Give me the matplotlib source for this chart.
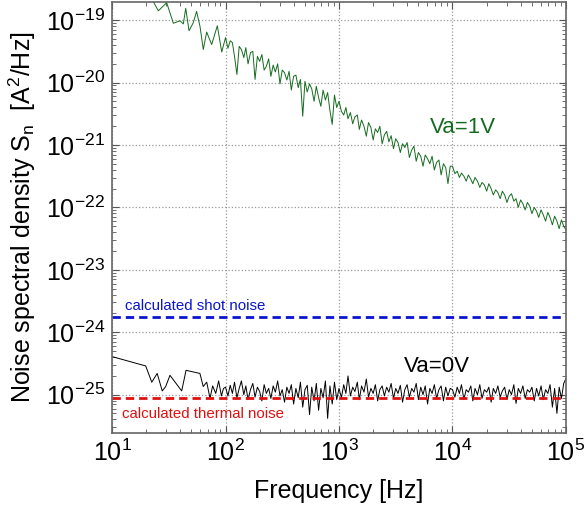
import numpy as np
import matplotlib.pyplot as plt
from matplotlib.ticker import LogLocator, NullFormatter, LogFormatterSciNotation

plt.rcParams['font.family'] = ['Liberation Sans', 'DejaVu Sans']
plt.rcParams['mathtext.fontset'] = 'custom'
plt.rcParams['mathtext.rm'] = 'Liberation Sans'
plt.rcParams['mathtext.it'] = 'Liberation Sans:italic'

# frequencies shared by both spectra above 100 Hz
freq_hi = [100, 105, 110, 115, 120, 126, 132, 138, 145, 151, 158, 166, 174, 182, 191,
           200, 209, 219, 229, 240, 251, 263, 275, 288, 302, 316, 331, 347, 363, 380,
           398, 417, 437, 457, 479, 501, 525, 550, 575, 603, 631, 661, 692, 724, 759,
           794, 832, 871, 912, 955,
           1000, 1050, 1100, 1150, 1200, 1260, 1320, 1380, 1450, 1510, 1580, 1660, 1740,
           1820, 1910, 2000, 2090, 2190, 2290, 2400, 2510, 2630, 2750, 2880, 3020, 3160,
           3310, 3470, 3630, 3800, 3980, 4170, 4370, 4570, 4790, 5010, 5250, 5500, 5750,
           6030, 6310, 6610, 6920, 7240, 7590, 7940, 8320, 8710, 9120, 9550,
           10000, 10500, 11000, 11500, 12000, 12600, 13200, 13800, 14500, 15100, 15800,
           16600, 17400, 18200, 19100, 20000, 20900, 21900, 22900, 24000, 25100, 26300,
           27500, 28800, 30200, 31600, 33100, 34700, 36300, 38000, 39800, 41700, 43700,
           45700, 47900, 50100, 52500, 55000, 57500, 60300, 63100, 66100, 69200, 72400,
           75900, 79400, 83200, 87100, 91200, 95500, 100000]

# Va = 1V, low-frequency part, log10 of S_n
freq_1v_lo = [20, 22.4, 25.6, 30.3, 34.7, 39.7, 42.5, 44.6, 47.7, 52.0, 55.6, 59.6,
              63.7, 68.2, 75.5, 84.7, 92.6]
log_1v_lo = [-18.55, -18.66, -18.85, -18.72, -19.05, -19.01, -19.06, -18.81, -19.17,
             -19.04, -18.86, -19.10, -19.47, -19.19, -19.39, -19.09, -19.51]

log_1v_hi = [-19.28, -19.45, -19.33, -19.36, -19.58, -19.87, -19.42, -19.47, -19.60, -19.44,
             -19.70, -19.52, -19.50, -19.95, -19.58, -19.66, -19.55, -19.80, -19.74, -19.62,
             -19.90, -19.72, -19.83, -19.70, -20.02, -19.80, -19.84, -19.96, -19.82, -20.12,
             -19.90, -19.88, -20.08, -19.95, -20.54, -19.98, -20.15, -20.02, -20.10, -20.30,
             -20.06, -20.24, -20.38, -20.12, -20.28, -20.16, -20.45, -20.67, -20.20, -20.40,
             -20.30, -20.46, -20.52, -20.40, -20.58, -20.48, -20.66, -20.55, -20.52, -20.75,
             -20.60, -20.70, -20.86, -20.64, -20.72, -20.92, -20.74, -20.80, -20.70, -20.98,
             -20.84, -20.78, -20.95, -20.85, -21.06, -20.90, -20.96, -21.12, -20.98, -21.04,
             -20.96, -21.20, -21.08, -21.02, -21.26, -21.12, -21.18, -21.34, -21.16, -21.22,
             -21.30, -21.18, -21.40, -21.28, -21.24, -21.48, -21.30, -21.36, -21.62, -21.34,
             -21.34, -21.46, -21.42, -21.52, -21.45, -21.50, -21.58, -21.48, -21.55, -21.62,
             -21.52, -21.58, -21.68, -21.60, -21.64, -21.74, -21.62, -21.70, -21.80, -21.72,
             -21.76, -21.86, -21.74, -21.80, -21.92, -21.82, -21.78, -21.90, -21.86, -22.00,
             -21.88, -21.94, -22.04, -21.92, -21.98, -22.10, -22.00, -22.06, -22.16, -22.04,
             -22.12, -22.22, -22.08, -22.16, -22.28, -22.14, -22.22, -22.34, -22.20, -22.30,
             -22.36]

# Va = 0V
freq_0v_lo = [10, 19.8, 22.4, 25, 27.7, 29.7, 32.4, 41.1, 44.9, 59.5, 63.6, 68.3, 73,
              77, 82, 87, 92, 96]
log_0v_lo = [-24.39, -24.54, -24.80, -24.66, -24.94, -24.87, -24.69, -24.94, -24.61,
             -24.66, -24.87, -24.80, -25.06, -24.86, -24.98, -24.78, -25.02, -24.90]

log_0v_hi = [-24.88, -25.02, -24.85, -24.98, -24.80, -25.05, -24.90, -24.78, -25.00, -24.86,
             -25.08, -24.92, -24.82, -25.04, -24.88, -24.95, -25.10, -24.84, -24.98, -24.90,
             -25.06, -24.86, -24.96, -24.78, -25.02, -24.92, -25.12, -24.88, -24.98, -24.84,
             -25.15, -24.90, -25.05, -24.80, -25.20, -24.92, -24.85, -25.32, -24.88, -25.10,
             -24.82, -25.25, -24.90, -25.05, -24.78, -25.38, -24.86, -25.15, -24.80, -25.08,
             -24.90, -25.05, -24.84, -24.98, -24.70, -25.02, -24.88, -24.95, -24.80, -25.08,
             -24.86, -24.96, -24.75, -25.04, -24.90, -24.98, -24.84, -25.10, -24.92, -24.86,
             -25.02, -24.88, -24.96, -24.82, -25.06, -24.90, -24.98, -24.85, -25.12, -24.92,
             -24.84, -25.04, -24.90, -24.96, -24.82, -25.08, -24.88, -25.00, -24.86, -25.15,
             -24.90, -24.98, -24.84, -25.06, -24.92, -24.86, -25.10, -24.88, -25.02, -24.90,
             -24.92, -25.04, -24.88, -24.98, -24.84, -25.08, -24.92, -24.96, -24.86, -25.10,
             -24.90, -25.00, -24.84, -25.06, -24.92, -24.96, -24.88, -25.12, -24.90, -24.98,
             -24.86, -25.04, -24.94, -24.88, -25.08, -24.92, -25.00, -24.84, -25.14, -24.90,
             -24.98, -24.86, -25.06, -24.92, -24.96, -24.88, -25.10, -24.90, -25.02, -24.86,
             -25.08, -24.92, -24.98, -24.84, -25.20, -24.90, -25.30, -24.88, -25.06, -24.82,
             -24.74]

shot_noise = 1.75e-24
thermal_noise = 9.0e-26

x_ticks = [1e1, 1e2, 1e3, 1e4, 1e5]
y_ticks = [1e-25, 1e-24, 1e-23, 1e-22, 1e-21, 1e-20, 1e-19]

f1 = np.array(freq_1v_lo + freq_hi)
s1 = 10.0 ** np.array(log_1v_lo + log_1v_hi)
f0 = np.array(freq_0v_lo + freq_hi)
s0 = 10.0 ** np.array(log_0v_lo + log_0v_hi)

fig = plt.figure(figsize=(5.85, 5.14), dpi=100)
ax = fig.add_axes([0.1915, 0.158, 0.776, 0.838])

ax.plot(f1, s1, color='#156b1f', lw=0.7)
ax.plot(f0, s0, color='black', lw=0.7)
ax.axhline(shot_noise, color='#0a14d0', lw=2, ls=(0, (3, 1.8)))
ax.axhline(thermal_noise, color='#e01010', lw=2, ls=(0, (3, 1.8)))

ax.set_xscale('log')
ax.set_yscale('log')
ax.set_xlim(10, 1e5)
ax.set_ylim(2.45e-26, 1.95e-19)

ax.set_xticks(x_ticks)
ax.set_yticks(y_ticks)
ax.xaxis.set_major_formatter(LogFormatterSciNotation())
ax.yaxis.set_major_formatter(LogFormatterSciNotation())
ax.xaxis.set_minor_locator(LogLocator(base=10, subs=np.arange(2, 10), numticks=12))
ax.yaxis.set_minor_locator(LogLocator(base=10, subs=np.arange(2, 10), numticks=12))
ax.xaxis.set_minor_formatter(NullFormatter())
ax.yaxis.set_minor_formatter(NullFormatter())

ax.tick_params(which='both', direction='in', top=True, right=True, color='#555555')
ax.tick_params(which='major', length=5, labelsize=18, pad=5)
ax.tick_params(which='minor', length=3)
for sp in ax.spines.values():
    sp.set_color('#666666')
    sp.set_linewidth(1.2)

ax.grid(True, which='major', color='#999999', ls=':', lw=0.9)

ax.set_xlabel('Frequency [Hz]', fontsize=18, va='top')
ax.xaxis.set_label_coords(0.5, -0.107)
ax.set_ylabel(r'Noise spectral density S$_\mathregular{n}$  [A$^\mathregular{2}$/Hz]',
              fontsize=18)
ax.yaxis.set_label_coords(-0.163, 0.5)

ax.text(0.773, 0.708, 'Va=1V', color='#156b1f', fontsize=16, transform=ax.transAxes,
        ha='center', va='center')
ax.text(0.716, 0.153, 'Va=0V', color='black', fontsize=16, transform=ax.transAxes,
        ha='center', va='center')
ax.text(0.029, 0.295, 'calculated shot noise', color='#0a14d0', fontsize=10.8,
        transform=ax.transAxes, ha='left', va='center')
ax.text(0.022, 0.044, 'calculated thermal noise', color='#e01010', fontsize=10.8,
        transform=ax.transAxes, ha='left', va='center')

fig.savefig('out.png', dpi=100)
